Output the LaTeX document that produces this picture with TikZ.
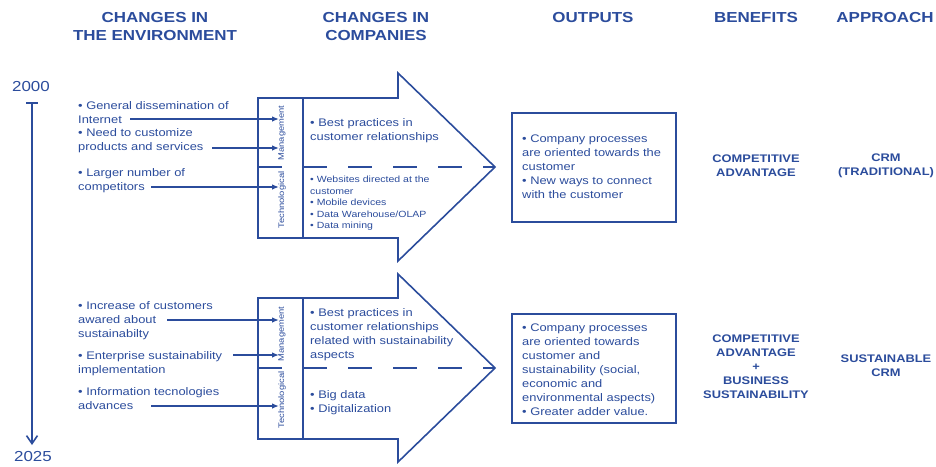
\documentclass[tikz,border=0pt]{standalone}
\usepackage{fontspec}
\setmainfont{Liberation Sans}[FakeStretch=1.17]
\usetikzlibrary{arrows.meta}
\definecolor{cblue}{HTML}{2B4C9C}
\begin{document}
\begin{tikzpicture}[x=1pt,y=-1pt,
  every node/.style={text=cblue, inner sep=0pt},
  hdr/.style={font=\bfseries\fontsize{14.5}{18}\selectfont, align=center},
  body/.style={font=\fontsize{11}{14}\selectfont, align=left, anchor=north west},
  smalltxt/.style={font=\fontsize{9}{11.5}\selectfont, align=left, anchor=north west},
  sidelbl/.style={font=\fontsize{8}{10}\selectfont, rotate=90},
  boldtxt/.style={font=\bfseries\fontsize{11}{14}\selectfont, align=center},
  yeartxt/.style={font=\fontsize{14.5}{18}\selectfont},
  bigarrow/.style={draw=cblue, line width=1.6pt, line join=miter},
  divider/.style={draw=cblue, line width=1.6pt},
  dashline/.style={draw=cblue, line width=1.6pt, dash pattern=on 24pt off 21pt},
  outbox/.style={draw=cblue, line width=1.8pt},
  conn/.style={draw=cblue, line width=1.3pt, -{Latex[length=7pt,width=5.5pt]}}
]
\useasboundingbox (0,0) rectangle (936,466);

% headers
\node[hdr] (h1) at (155,27) {CHANGES IN\\THE ENVIRONMENT};
\node[hdr] (h2) at (376,27) {CHANGES IN\\COMPANIES};
\node[hdr] (h3) at (593,18) {OUTPUTS};
\node[hdr] (h4) at (756,18) {BENEFITS};
\node[hdr] (h5) at (885,18) {APPROACH};

% timeline
\node[yeartxt] (y1) at (31,87) {2000};
\node[yeartxt] (y2) at (33,457) {2025};
\coordinate (tl1) at (32,103);
\coordinate (tl2) at (32,445);
\draw[cblue, line width=1.6pt] (26,103) -- (38,103);
\draw[cblue, line width=1.6pt, -{Straight Barb[length=8pt,width=11pt]}] (tl1) -- (tl2);

% ===== top arrow =====
\draw[bigarrow] (258,98) -- (398,98) -- (398,73) -- (495,167) -- (398,261) -- (398,238) -- (258,238) -- cycle;
\draw[divider] (303,98) -- (303,238);
\draw[dashline] (258,167) -- (495,167);
\node[sidelbl] (m1) at (282,133) {Management};
\node[sidelbl] (t1) at (282,200) {Technological};
\node[body] (bp1) at (310,118) {• Best practices in\\customer relationships};
\node[smalltxt] (tech1) at (310,176) {• Websites directed at the\\customer\\• Mobile devices\\• Data Warehouse/OLAP\\• Data mining};

% top environment texts
\node[body] (e1) at (78,101) {• General dissemination of\\Internet};
\node[body] (e2) at (78,128) {• Need to customize\\products and services};
\node[body] (e3) at (78,168) {• Larger number of\\competitors};
\coordinate (s1) at (130,119);
\coordinate (s2) at (212,148);
\coordinate (s3) at (151,187);
\coordinate (d1) at (279,119);
\coordinate (d2) at (279,148);
\coordinate (d3) at (279,187);
\draw[conn] (s1) -- (d1);
\draw[conn] (s2) -- (d2);
\draw[conn] (s3) -- (d3);

% top output
\draw[outbox] (512,113) rectangle (676,222);
\node[body] (o1) at (522,135) {• Company processes\\are oriented towards the\\customer\\• New ways to connect\\with the customer};
\node[boldtxt] (b1) at (756,166) {COMPETITIVE\\ADVANTAGE};
\node[boldtxt] (a1) at (886,166) {CRM\\(TRADITIONAL)};

% ===== bottom arrow =====
\draw[bigarrow] (258,298) -- (398,298) -- (398,274) -- (495,368) -- (398,462) -- (398,439) -- (258,439) -- cycle;
\draw[divider] (303,298) -- (303,439);
\draw[dashline] (258,368) -- (495,368);
\node[sidelbl] (m2) at (282,334) {Management};
\node[sidelbl] (t2) at (282,400) {Technological};
\node[body] (bp2) at (310,308) {• Best practices in\\customer relationships\\related with sustainability\\aspects};
\node[body] (tech2) at (310,390) {• Big data\\• Digitalization};

% bottom environment texts
\node[body] (e4) at (78,301) {• Increase of customers\\awared about\\sustainabilty};
\node[body] (e5) at (78,351) {• Enterprise sustainability\\implementation};
\node[body] (e6) at (78,387) {• Information tecnologies\\advances};
\coordinate (s4) at (167,320);
\coordinate (s5) at (233,355);
\coordinate (s6) at (151,406);
\coordinate (d4) at (279,320);
\coordinate (d5) at (279,355);
\coordinate (d6) at (279,406);
\draw[conn] (s4) -- (d4);
\draw[conn] (s5) -- (d5);
\draw[conn] (s6) -- (d6);

% bottom output
\draw[outbox] (512,314) rectangle (676,423);
\node[body] (o2) at (522,324) {• Company processes\\are oriented towards\\customer and\\sustainability (social,\\economic and\\environmental aspects)\\• Greater adder value.};
\node[boldtxt] (b2) at (756,367) {COMPETITIVE\\ADVANTAGE\\+\\BUSINESS\\SUSTAINABILITY};
\node[boldtxt] (a2) at (886,366) {SUSTAINABLE\\CRM};
\end{tikzpicture}
\end{document}
